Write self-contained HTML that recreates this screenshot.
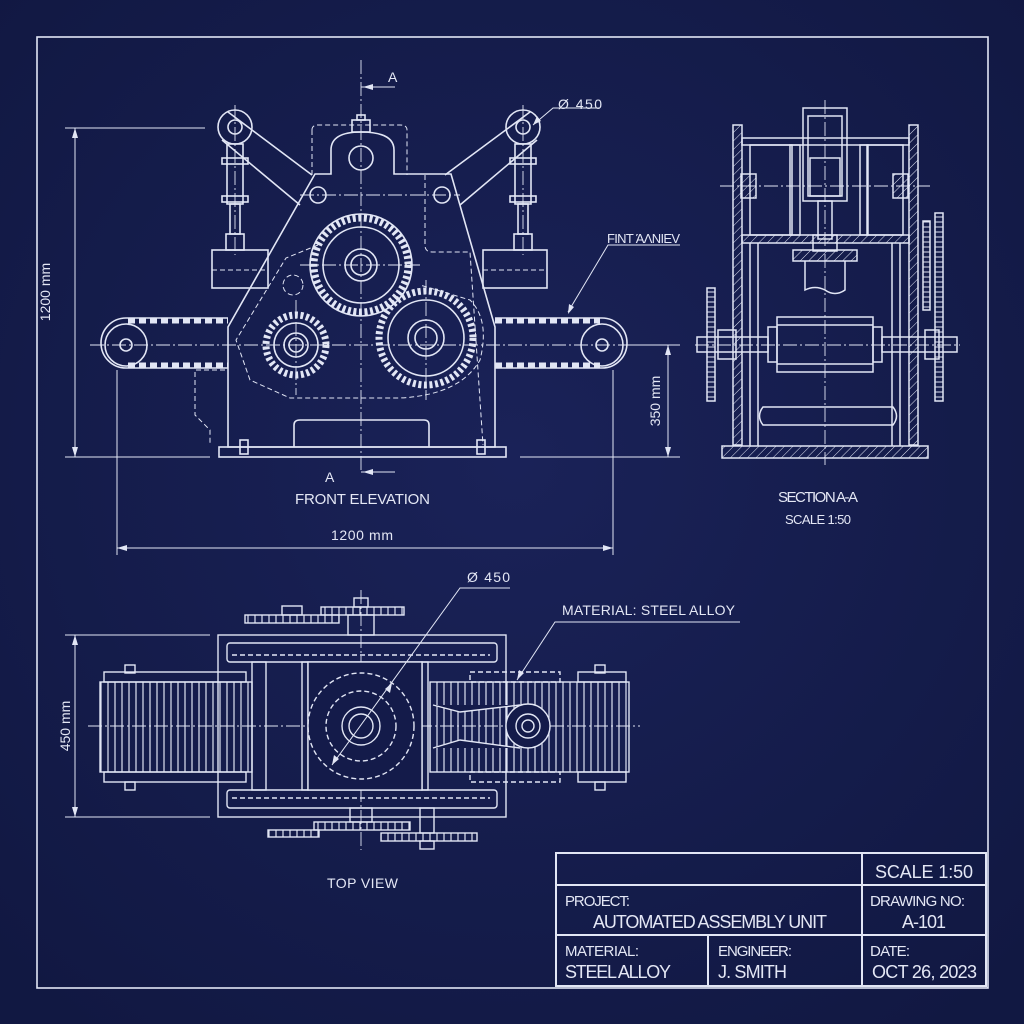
<!DOCTYPE html>
<html><head><meta charset="utf-8"><style>
html,body{margin:0;padding:0;background:#141b4a}
svg{display:block}
text{font-family:"Liberation Sans",sans-serif;fill:#e4e7f5}
</style></head><body>
<svg width="1024" height="1024" viewBox="0 0 1024 1024" xmlns="http://www.w3.org/2000/svg">
<defs>
<radialGradient id="bg" cx="50%" cy="45%" r="70%"><stop offset="0" stop-color="#1a2258"/><stop offset="1" stop-color="#111842"/></radialGradient>
<pattern id="hatch" width="6" height="6" patternUnits="userSpaceOnUse" patternTransform="rotate(45)"><line x1="0" y1="0" x2="0" y2="6" stroke="#dfe3f3" stroke-width="1"/></pattern>
<pattern id="vbars" width="7" height="10" patternUnits="userSpaceOnUse"><line x1="3" y1="0" x2="3" y2="10" stroke="#dfe3f3" stroke-width="1.2"/></pattern>
<pattern id="hbars" width="10" height="5" patternUnits="userSpaceOnUse"><line x1="0" y1="2" x2="10" y2="2" stroke="#dfe3f3" stroke-width="1"/></pattern>
</defs>
<rect width="1024" height="1024" fill="url(#bg)"/>
<g fill="none" stroke="#e2e6f5" stroke-width="1.6">
<rect x="37" y="37" width="951" height="951"/>

<!-- ===== FRONT ELEVATION ===== -->
<g stroke-dasharray="14 3 2 3" stroke-width="0.9">
<line x1="361" y1="60" x2="361" y2="470"/>
<line x1="90" y1="345" x2="640" y2="345"/>
<line x1="296" y1="300" x2="296" y2="395"/>
<line x1="426" y1="280" x2="426" y2="400"/>
<line x1="300" y1="265" x2="420" y2="265"/>
<line x1="300" y1="195" x2="460" y2="195"/>
<line x1="235" y1="105" x2="235" y2="255"/>
<line x1="523" y1="105" x2="523" y2="255"/>
</g>
<g stroke-dasharray="5 3" stroke-width="1">
<path d="M312,130 L312,175 M312,130 Q312,125 318,125 L400,125 Q407,125 407,130 L407,175"/>
<path d="M425,175 L425,245 Q425,252 432,252 L470,252 L483,445"/>
<path d="M318,245 L286,258 L236,340 L250,380 L290,398 L400,398 Q460,395 480,360 Q490,320 470,300 L420,285"/>
<path d="M225,370 L195,370 L195,415 L210,430 L210,445"/>
<circle cx="293" cy="285" r="10"/>
<path d="M212,270 L268,270 M483,270 L547,270"/>
</g>
<path d="M331,174 L331,150 Q331,132 361,132 Q394,132 394,150 L394,174 L451,174 L495,327 L495,447 L228,447 L228,327 L315,174 Z"/>
<rect x="352" y="120" width="18" height="12"/><rect x="357" y="115" width="8" height="5"/>
<circle cx="361" cy="158" r="12"/>
<circle cx="318" cy="195" r="8"/><circle cx="442" cy="195" r="8"/>
<rect x="219" y="447" width="287" height="10"/>
<path d="M294,447 L294,425 Q294,420 300,420 L424,420 Q429,420 429,425 L429,447"/>
<rect x="240" y="440" width="8" height="14"/><rect x="477" y="440" width="8" height="14"/>
<circle cx="235" cy="127" r="17"/><circle cx="235" cy="127" r="7"/>
<circle cx="523" cy="127" r="17"/><circle cx="523" cy="127" r="7"/>
<path d="M228,112 L312,175 M222,140 L300,205"/>
<path d="M530,112 L445,175 M537,140 L460,205"/>
<rect x="227" y="144" width="16" height="60"/><rect x="222" y="158" width="26" height="6"/><rect x="222" y="196" width="26" height="6"/>
<rect x="230" y="204" width="10" height="30"/><rect x="226" y="234" width="18" height="16"/>
<rect x="515" y="144" width="16" height="60"/><rect x="510" y="158" width="26" height="6"/><rect x="510" y="196" width="26" height="6"/>
<rect x="518" y="204" width="10" height="30"/><rect x="514" y="234" width="18" height="16"/>
<rect x="212" y="250" width="56" height="38"/><rect x="483" y="250" width="64" height="38"/>
<circle cx="361" cy="265" r="47" stroke-width="7" stroke-dasharray="3 2.6"/>
<circle cx="361" cy="265" r="51"/><circle cx="361" cy="265" r="38"/><circle cx="361" cy="265" r="16"/><circle cx="361" cy="265" r="10"/>
<circle cx="296" cy="345" r="30" stroke-width="7" stroke-dasharray="3 2.6"/>
<circle cx="296" cy="345" r="22"/><circle cx="296" cy="345" r="12"/><circle cx="296" cy="345" r="7"/>
<circle cx="426" cy="338" r="47" stroke-width="7" stroke-dasharray="3 2.6"/>
<circle cx="426" cy="338" r="38"/><circle cx="426" cy="338" r="18"/><circle cx="426" cy="338" r="11"/>
<path d="M126,318 L228,318 M126,368 L228,368"/>
<path d="M126,318 A25,25 0 0 0 126,368"/>
<circle cx="126" cy="345" r="21"/><circle cx="126" cy="345" r="6"/>
<line x1="128" y1="321" x2="228" y2="321" stroke-width="5" stroke-dasharray="7 4"/>
<line x1="128" y1="365" x2="228" y2="365" stroke-width="5" stroke-dasharray="7 4"/>
<path d="M495,318 L602,318 M495,368 L602,368"/>
<path d="M602,318 A25,25 0 0 1 602,368"/>
<circle cx="602" cy="345" r="21"/><circle cx="602" cy="345" r="6"/>
<line x1="495" y1="321" x2="600" y2="321" stroke-width="5" stroke-dasharray="7 4"/>
<line x1="495" y1="365" x2="600" y2="365" stroke-width="5" stroke-dasharray="7 4"/>
<g stroke-width="1">
<line x1="65" y1="128" x2="205" y2="128"/><line x1="65" y1="457" x2="210" y2="457"/>
<line x1="75" y1="128" x2="75" y2="457"/>
<line x1="117" y1="370" x2="117" y2="555"/><line x1="613" y1="370" x2="613" y2="555"/>
<line x1="117" y1="548" x2="613" y2="548"/>
<line x1="620" y1="345" x2="680" y2="345"/><line x1="520" y1="457" x2="680" y2="457"/>
<line x1="668" y1="345" x2="668" y2="457"/>
<line x1="361" y1="87" x2="395" y2="87"/><line x1="361" y1="472" x2="395" y2="472"/>
<path d="M533,125 L553,108 L600,108"/>
<path d="M568,312 L608,245 L680,245"/>
</g>
</g>
<g fill="#e2e6f5">
<path d="M75,128 l-3,10 h6z"/><path d="M75,457 l-3,-10 h6z"/>
<path d="M117,548 l10,-3 v6z"/><path d="M613,548 l-10,-3 v6z"/>
<path d="M668,345 l-3,10 h6z"/><path d="M668,457 l-3,-10 h6z"/>
<path d="M363,87 l10,-3 v6z"/><path d="M363,472 l10,-3 v6z"/>
<path d="M533,125 l4,-9 4,5z"/><path d="M568,314 l1,-10 5,3z"/>
</g>
<text x="388" y="82" font-size="14">A</text>
<text x="325" y="482" font-size="14">A</text>
<text x="558" y="109" font-size="14" textLength="44">Ø 450</text>
<text x="607" y="243" font-size="13" textLength="73">FINT ΆΛΝΙΕV</text>
<text x="50" y="292" font-size="14" transform="rotate(-90 50 292)" text-anchor="middle">1200 mm</text>
<text x="362" y="540" font-size="14" text-anchor="middle" textLength="62">1200 mm</text>
<text x="660" y="401" font-size="14" transform="rotate(-90 660 401)" text-anchor="middle">350 mm</text>
<text x="295" y="504" font-size="15" textLength="135">FRONT ELEVATION</text>

<!-- ===== SECTION A-A ===== -->
<g fill="none" stroke="#e2e6f5" stroke-width="1.5">
<g stroke-dasharray="14 3 2 3" stroke-width="0.9">
<line x1="825" y1="100" x2="825" y2="465"/>
<line x1="720" y1="186" x2="930" y2="186"/>
<line x1="695" y1="345" x2="960" y2="345"/>
</g>
<rect x="733" y="125" width="9" height="320" fill="url(#hatch)"/>
<rect x="909" y="125" width="9" height="320" fill="url(#hatch)"/>
<rect x="722" y="446" width="206" height="12" fill="url(#hatch)"/>
<rect x="742" y="138" width="167" height="7"/>
<rect x="742" y="235" width="167" height="8" fill="url(#hatch)"/>
<rect x="750" y="145" width="42" height="90"/><rect x="867" y="145" width="36" height="90"/>
<rect x="790" y="145" width="10" height="90"/><rect x="860" y="145" width="8" height="90"/>
<rect x="803" y="108" width="44" height="93"/><rect x="808" y="116" width="34" height="80"/>
<rect x="810" y="158" width="30" height="38"/>
<rect x="818" y="201" width="14" height="38"/>
<rect x="813" y="235" width="24" height="16"/>
<rect x="793" y="250" width="64" height="11" fill="url(#hatch)"/>
<path d="M805,261 L805,290 Q815,285 825,290 Q835,297 845,290 L845,261"/>
<rect x="741" y="174" width="15" height="24" fill="url(#hatch)"/><rect x="893" y="174" width="15" height="24" fill="url(#hatch)"/>
<line x1="750" y1="243" x2="750" y2="446"/><line x1="758" y1="243" x2="758" y2="446"/>
<line x1="892" y1="243" x2="892" y2="446"/><line x1="900" y1="243" x2="900" y2="446"/>
<rect x="777" y="317" width="96" height="55"/>
<line x1="777" y1="325" x2="873" y2="325"/><line x1="777" y1="364" x2="873" y2="364"/>
<rect x="768" y="327" width="9" height="35"/><rect x="873" y="327" width="9" height="35"/>
<rect x="697" y="337" width="71" height="15"/><rect x="882" y="337" width="75" height="15"/>
<rect x="718" y="330" width="18" height="29"/><rect x="925" y="330" width="14" height="29"/>
<rect x="707" y="288" width="8" height="113" fill="url(#hbars)"/>
<rect x="935" y="213" width="8" height="188" fill="url(#hbars)"/>
<rect x="923" y="221" width="7" height="89" fill="url(#hbars)"/>
<path d="M763,407 L893,407 Q900,416 893,425 L763,425 Q756,416 763,407 Z"/>
</g>
<text x="778" y="502" font-size="15" textLength="80">SECTION A-A</text>
<text x="785" y="524" font-size="13" textLength="66">SCALE 1:50</text>

<!-- ===== TOP VIEW ===== -->
<g fill="none" stroke="#e2e6f5" stroke-width="1.4">
<g stroke-dasharray="14 3 2 3" stroke-width="0.9">
<line x1="88" y1="726" x2="640" y2="726"/>
<line x1="361" y1="590" x2="361" y2="850"/>
</g>
<rect x="218" y="635" width="288" height="182"/>
<rect x="227" y="643" width="270" height="19" rx="3"/>
<rect x="227" y="790" width="270" height="18" rx="3"/>
<line x1="232" y1="655" x2="490" y2="655" stroke-dasharray="5 3"/>
<line x1="232" y1="798" x2="490" y2="798" stroke-dasharray="5 3"/>
<rect x="252" y="662" width="14" height="128"/><rect x="302" y="662" width="6" height="128"/>
<rect x="422" y="662" width="6" height="128"/>
<rect x="100" y="682" width="152" height="90" fill="url(#vbars)"/>
<rect x="104" y="672" width="142" height="10"/><rect x="104" y="772" width="142" height="10"/>
<rect x="430" y="682" width="199" height="90" fill="url(#vbars)"/>
<rect x="470" y="672" width="90" height="10" stroke-dasharray="5 3"/><rect x="578" y="672" width="48" height="10"/>
<rect x="470" y="772" width="90" height="10" stroke-dasharray="5 3"/><rect x="578" y="772" width="48" height="10"/>
<rect x="125" y="665" width="10" height="8"/><rect x="125" y="782" width="10" height="8"/>
<rect x="595" y="665" width="10" height="8"/><rect x="595" y="782" width="10" height="8"/>
<rect x="308" y="662" width="114" height="128" fill="#141b4a"/>
<circle cx="361" cy="726" r="53" stroke-dasharray="5 3"/>
<circle cx="361" cy="726" r="35" stroke-dasharray="5 3"/>
<circle cx="361" cy="726" r="19"/><circle cx="361" cy="726" r="12"/>
<path d="M433,705 L460,712 L520,705 M433,748 L460,740 L520,748" fill="#141b4a"/>
<circle cx="528" cy="726" r="22" fill="#141b4a"/><circle cx="528" cy="726" r="12"/><circle cx="528" cy="726" r="6"/>
<rect x="321" y="607" width="83" height="8" fill="url(#vbars)"/>
<rect x="245" y="615" width="94" height="8" fill="url(#vbars)"/>
<rect x="348" y="615" width="26" height="20"/><rect x="282" y="606" width="20" height="9"/><rect x="354" y="598" width="14" height="9"/>
<rect x="314" y="822" width="96" height="8" fill="url(#vbars)"/>
<rect x="268" y="830" width="51" height="7" fill="url(#vbars)"/>
<rect x="381" y="833" width="96" height="8" fill="url(#vbars)"/>
<rect x="350" y="808" width="22" height="14"/><rect x="420" y="808" width="14" height="25"/><rect x="420" y="841" width="14" height="8"/>
<g stroke-width="1">
<line x1="65" y1="635" x2="210" y2="635"/><line x1="65" y1="817" x2="210" y2="817"/>
<line x1="75" y1="635" x2="75" y2="817"/>
<path d="M332,765 L460,588 L510,588"/>
<path d="M517,680 L555,622 L740,622"/>
</g>
</g>
<g fill="#e2e6f5">
<path d="M75,635 l-3,10 h6z"/><path d="M75,817 l-3,-10 h6z"/>
<path d="M332,765 l2,-10 5,4z"/><path d="M392,683 l-2,10 -5,-4z"/><path d="M517,680 l2,-10 5,3z"/>
</g>
<text x="467" y="582" font-size="14" textLength="43">Ø 450</text>
<text x="562" y="615" font-size="14" textLength="173">MATERIAL: STEEL ALLOY</text>
<text x="70" y="726" font-size="14" transform="rotate(-90 70 726)" text-anchor="middle">450 mm</text>
<text x="327" y="888" font-size="14" textLength="71">TOP VIEW</text>

<!-- ===== TITLE BLOCK ===== -->
<g fill="none" stroke="#e2e6f5" stroke-width="2">
<rect x="556" y="853" width="430" height="133"/>
<line x1="556" y1="885" x2="986" y2="885"/>
<line x1="556" y1="935" x2="986" y2="935"/>
<line x1="862" y1="853" x2="862" y2="986"/>
<line x1="708" y1="935" x2="708" y2="986"/>
</g>
<text x="875" y="878" font-size="18" textLength="98">SCALE  1:50</text>
<text x="565" y="906" font-size="15" textLength="65">PROJECT:</text>
<text x="593" y="928" font-size="18" textLength="234">AUTOMATED ASSEMBLY UNIT</text>
<text x="870" y="906" font-size="15" textLength="95">DRAWING NO:</text>
<text x="902" y="928" font-size="18" textLength="44">A-101</text>
<text x="565" y="956" font-size="15" textLength="74">MATERIAL:</text>
<text x="565" y="978" font-size="18" textLength="106">STEEL ALLOY</text>
<text x="718" y="956" font-size="15" textLength="74">ENGINEER:</text>
<text x="718" y="978" font-size="18" textLength="69">J. SMITH</text>
<text x="870" y="956" font-size="15" textLength="40">DATE:</text>
<text x="872" y="978" font-size="18" textLength="105">OCT 26, 2023</text>
</svg>
</body></html>
